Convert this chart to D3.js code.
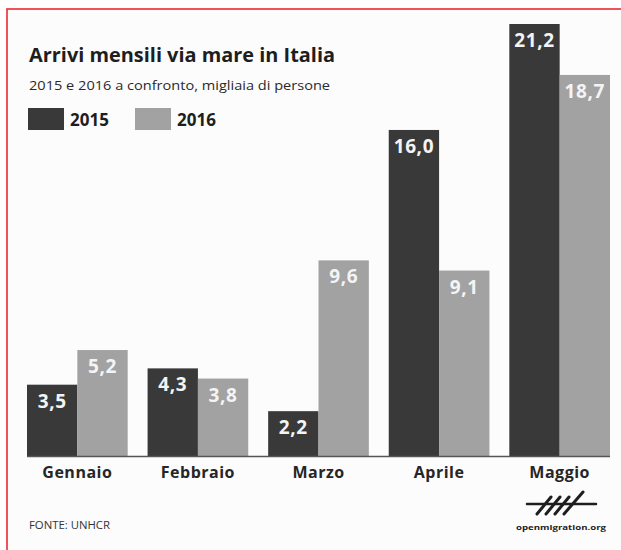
<!DOCTYPE html>
<html>
<head>
<meta charset="utf-8">
<script src="https://cdn.jsdelivr.net/npm/d3@7"></script>
<style>
  body { margin: 0; background: #fff; }
  svg text { font-family: "Open Sans", "DejaVu Sans", sans-serif; }
</style>
</head>
<body>
<svg class="chart" width="621" height="550"></svg>
<script>
// data (migliaia di persone)
var months = ["Gennaio", "Febbraio", "Marzo", "Aprile", "Maggio"];
var years = ["2015", "2016"];
var values2015 = [3.5, 4.3, 2.2, 16.0, 21.2];
var values2016 = [5.2, 3.8, 9.6, 9.1, 18.7];

var colors = {"2015": "#393939", "2016": "#a2a2a2"};

var svg = d3.select(".chart"),
    width = +svg.attr("width"),
    height = +svg.attr("height");

// frame (right and bottom edges fall outside the picture)
svg.append("rect")
    .attr("x", 7).attr("y", 9)
    .attr("width", 620).attr("height", 550)
    .style("fill", "#fcfcfc")
    .style("stroke", "#ec2a2f")
    .style("stroke-width", 1.6);

var x = d3.scaleBand()
    .domain(months)
    .range([27, 610])
    .paddingInner(0.165);

var x1 = d3.scaleBand()
    .domain(years)
    .range([0, x.bandwidth()]);

var y = d3.scaleLinear()
    .domain([0, 21.2])
    .range([456, 24]);

var rows = months.map(function(m, i) {
  return {month: m, values: [
    {year: "2015", value: values2015[i]},
    {year: "2016", value: values2016[i]}
  ]};
});

var fmt = function(v) { return d3.format(".1f")(v).replace(".", ","); };

var group = svg.append("g").selectAll("g")
    .data(rows)
    .enter().append("g")
    .attr("transform", function(d) { return "translate(" + x(d.month) + ",0)"; });

group.selectAll("rect")
    .data(function(d) { return d.values; })
    .enter().append("rect")
    .attr("x", function(d) { return x1(d.year); })
    .attr("y", function(d) { return y(d.value); })
    .attr("width", x1.bandwidth())
    .attr("height", function(d) { return y(0) - y(d.value); })
    .style("fill", function(d) { return colors[d.year]; });

group.selectAll("text")
    .data(function(d) { return d.values; })
    .enter().append("text")
    .attr("x", function(d) { return x1(d.year) + x1.bandwidth() / 2; })
    .attr("y", function(d) { return y(d.value) + 23; })
    .attr("text-anchor", "middle")
    .style("font-size", "19px")
    .style("font-weight", "700")
    .style("letter-spacing", "0.6px")
    .style("fill", "#f4f4f4")
    .text(function(d) { return fmt(d.value); });

// baseline
svg.append("line")
    .attr("x1", 27).attr("x2", 610)
    .attr("y1", y(0) + 0.5).attr("y2", y(0) + 0.5)
    .style("stroke", "#555")
    .style("stroke-width", 1.5);

// month labels
var xAxis = svg.append("g")
    .attr("transform", "translate(0," + y(0) + ")")
    .call(d3.axisBottom(x).tickSize(0).tickPadding(0));
xAxis.select(".domain").remove();
xAxis.selectAll("text")
    .attr("y", 22)
    .attr("dy", 0)
    .style("font-family", "\"Open Sans\", sans-serif")
    .style("font-size", "16px")
    .style("font-weight", "700")
    .style("letter-spacing", "0.5px")
    .style("fill", "#262626");

// title + subtitle
svg.append("text")
    .attr("x", 29).attr("y", 62)
    .attr("textLength", 306).attr("lengthAdjust", "spacingAndGlyphs")
    .style("font-size", "19px").style("font-weight", "700")
    .style("fill", "#1e1e1e")
    .text("Arrivi mensili via mare in Italia");

svg.append("text")
    .attr("x", 29).attr("y", 90)
    .attr("textLength", 301).attr("lengthAdjust", "spacingAndGlyphs")
    .style("font-size", "13px")
    .style("fill", "#2a2a2a")
    .text("2015 e 2016 a confronto, migliaia di persone");

// legend
var legendX = [28, 135];
var legend = svg.append("g").selectAll("g")
    .data(years)
    .enter().append("g")
    .attr("transform", function(d, i) { return "translate(" + legendX[i] + ",108)"; });

legend.append("rect")
    .attr("width", 36).attr("height", 22)
    .style("fill", function(d) { return colors[d]; });

legend.append("text")
    .attr("x", 42).attr("y", 18)
    .style("font-size", "17px").style("font-weight", "700")
    .style("fill", "#1e1e1e")
    .text(function(d) { return d; });

// source
svg.append("text")
    .attr("x", 29).attr("y", 529)
    .attr("textLength", 81).attr("lengthAdjust", "spacingAndGlyphs")
    .style("font-size", "11px")
    .style("fill", "#333")
    .text("FONTE: UNHCR");

// openmigration logo
var logo = svg.append("g").style("stroke", "#1e1e1e").style("fill", "none")
    .style("stroke-linecap", "round");
logo.append("line")
    .attr("x1", 527).attr("x2", 596)
    .attr("y1", 504).attr("y2", 504)
    .style("stroke-width", 2.5);
[537, 546, 555, 564].forEach(function(bx, i) {
  var last = i == 3;
  logo.append("line")
      .attr("x1", bx).attr("y1", 514)
      .attr("x2", bx + (last ? 19 : 14)).attr("y2", last ? 492 : 497)
      .style("stroke-width", 3);
});
svg.append("text")
    .attr("x", 561).attr("y", 530)
    .attr("text-anchor", "middle")
    .attr("textLength", 90).attr("lengthAdjust", "spacingAndGlyphs")
    .style("font-size", "7.5px").style("font-weight", "700")
    .style("fill", "#222")
    .text("openmigration.org");
</script>
</body>
</html>
